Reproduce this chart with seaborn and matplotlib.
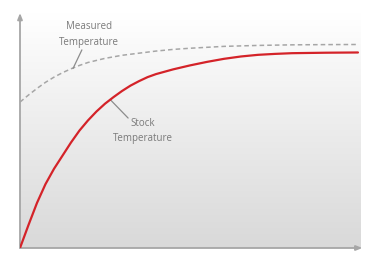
import numpy as np
import pandas as pd
import matplotlib
matplotlib.use("Agg")
import matplotlib.pyplot as plt
import seaborn as sns

# ---- data ----
stock_x = [0, 0.25, 0.5, 0.75, 1.0, 1.25, 1.5, 1.75, 2.0, 2.25, 2.5, 2.75,
           3.0, 3.25, 3.5, 3.75, 4.0, 4.5, 5.0, 5.5, 6.0, 6.5, 7.0, 7.5,
           8.0, 9.0, 9.94]
stock_y = [0, 9.8, 19.2, 27.2, 33.7, 39.3, 44.9, 50.0, 54.3, 58.1, 61.4, 64.2,
           66.8, 69.1, 71.0, 72.7, 74.0, 76.0, 77.7, 79.2, 80.5, 81.5, 82.2, 82.6,
           82.9, 83.1, 83.2]
meas_x = [0, 0.25, 0.5, 0.75, 1.0, 1.25, 1.5, 1.75, 2.0, 2.5, 3.0, 3.5,
          4.0, 4.5, 5.0, 6.0, 7.0, 8.0, 9.0, 9.94]
meas_y = [62.1, 65.1, 67.9, 70.5, 72.7, 74.6, 76.25, 77.7, 78.95, 80.7, 82.0, 82.9,
          83.8, 84.5, 85.0, 85.8, 86.2, 86.45, 86.55, 86.6]
labels = ["Measured\nTemperature", "Stock\nTemperature"]

stock = pd.DataFrame({"x": stock_x, "y": stock_y})
meas = pd.DataFrame({"x": meas_x, "y": meas_y})

sns.set_theme(style="white")
plt.rcParams["font.family"] = ["Open Sans", "DejaVu Sans"]

fig = plt.figure(figsize=(3.73, 2.59), dpi=100)
ax = fig.add_axes([20 / 373, 11 / 259, 340 / 373, 235 / 259])
ax.set_xlim(0, 10)
ax.set_ylim(0, 100)

# gradient background
grad = np.linspace(1.0, 0.0, 256).reshape(-1, 1)
top = np.array([1.0, 1.0, 1.0])
bot = np.array([0.85, 0.85, 0.85])
img = top * grad[..., None] + bot * (1 - grad[..., None])
ax.imshow(img, extent=[0, 1, 0, 1], transform=ax.transAxes, aspect="auto",
          zorder=0, interpolation="bilinear")

sns.lineplot(data=meas, x="x", y="y", ax=ax, color="#a6a6a6", linewidth=1.1,
             zorder=3)
ax.lines[-1].set_dashes([3, 2])
sns.lineplot(data=stock, x="x", y="y", ax=ax, color="#d42329", linewidth=1.6,
             zorder=4)
for ln in ax.lines:
    ln.set_solid_joinstyle("round")
    ln.set_dash_joinstyle("round")

for s in ax.spines.values():
    s.set_visible(False)
ax.set_xticks([])
ax.set_yticks([])
ax.set_xlabel("")
ax.set_ylabel("")

axcol = "#a6a6a6"
ax.annotate("", xy=(0, 1.0), xytext=(0, 0), xycoords="axes fraction",
            arrowprops=dict(arrowstyle="-|>,head_length=0.3,head_width=0.12",
                            color=axcol, lw=1.3, shrinkA=0, shrinkB=0),
            annotation_clip=False)
ax.annotate("", xy=(1.007, 0), xytext=(0, 0), xycoords="axes fraction",
            arrowprops=dict(arrowstyle="-|>,head_length=0.3,head_width=0.12",
                            color=axcol, lw=1.3, shrinkA=0, shrinkB=0),
            annotation_clip=False)

tcol = "#7a7a7a"
ax.text(2.03, 91.0, labels[0], ha="center", va="center", fontsize=7,
        color=tcol, linespacing=1.65)
ax.text(3.62, 49.8, labels[1], ha="center", va="center", fontsize=7,
        color=tcol, linespacing=1.6)

# leader lines
ax.annotate("", xy=(1.56, 76.4), xytext=(1.82, 84.3),
            arrowprops=dict(arrowstyle="-", color="#8c8c8c", lw=0.9,
                            shrinkA=0, shrinkB=0))
ax.annotate("", xy=(2.65, 63.2), xytext=(3.18, 55.3),
            arrowprops=dict(arrowstyle="-", color="#8c8c8c", lw=0.9,
                            shrinkA=0, shrinkB=0))

fig.savefig("out.png", dpi=100, facecolor="white")
